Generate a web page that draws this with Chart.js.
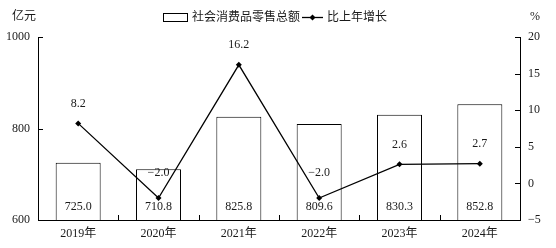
<!DOCTYPE html>
<html>
<head>
<meta charset="utf-8">
<script src="https://cdn.jsdelivr.net/npm/chart.js@4/dist/chart.umd.min.js"></script>
<style>
  html, body { margin: 0; padding: 0; background: #fff; }
  #wrap { width: 556px; height: 248px; }
</style>
</head>
<body>
<div id="wrap"><canvas id="c" width="556" height="248"></canvas></div>
<script>
var years = ["2019年", "2020年", "2021年", "2022年", "2023年", "2024年"];
var salesTotal = [725.0, 710.8, 825.8, 809.6, 830.3, 852.8];
var growthRate = [8.2, -2.0, 16.2, -2.0, 2.6, 2.7];
var leftTicks = [600, 800, 1000];
var rightTicks = [-5, 0, 5, 10, 15, 20];
var barName = "社会消费品零售总额";
var lineName = "比上年增长";
var leftUnit = "亿元";
var rightUnit = "%";

var FONT = "'Liberation Serif', 'Noto Sans CJK SC', serif";
var INK = "#1a1a1a";

function fmt(v) {
    var s = Math.abs(v).toFixed(1);
    return v < 0 ? "\u2212" + s : s;
}

function fmtTick(v) {
    return v < 0 ? "\u2212" + Math.abs(v) : String(v);
}

var decor = {
    id: "decor",
    afterDraw: function (chart) {
        var ctx = chart.ctx;
        var a = chart.chartArea;
        var xs = chart.scales.x, ys = chart.scales.y, ys1 = chart.scales.y1;
        ctx.save();
        ctx.strokeStyle = "#000";
        ctx.lineWidth = 1;
        ctx.beginPath();
        // inward tick marks
        ys.ticks.forEach(function (t, i) {
            var p = Math.round(ys.getPixelForTick(i)) + 0.5;
            ctx.moveTo(a.left, p); ctx.lineTo(a.left + 5, p);
        });
        ys1.ticks.forEach(function (t, i) {
            var p = Math.round(ys1.getPixelForTick(i)) + 0.5;
            ctx.moveTo(a.right, p); ctx.lineTo(a.right - 5, p);
        });
        for (var i = 1; i < years.length; i++) {
            var px = Math.round((xs.getPixelForValue(i - 1) + xs.getPixelForValue(i)) / 2) + 0.5;
            ctx.moveTo(px, a.bottom); ctx.lineTo(px, a.bottom - 5);
        }
        ctx.stroke();

        // value labels
        ctx.fillStyle = INK;
        ctx.font = "12px " + FONT;
        ctx.textAlign = "center";
        ctx.textBaseline = "middle";
        var barMeta = chart.getDatasetMeta(0);
        barMeta.data.forEach(function (el, i) {
            ctx.fillText(fmt(salesTotal[i]), el.x, a.bottom - 13);
        });
        var lineMeta = chart.getDatasetMeta(1);
        lineMeta.data.forEach(function (el, i) {
            var off = growthRate[i] < 0 ? 25 : 20;
            ctx.fillText(fmt(growthRate[i]), el.x, el.y - off);
        });

        // units
        ctx.textAlign = "left";
        ctx.fillText(leftUnit, 12, 17);
        ctx.fillText(rightUnit, 530, 17);

        // legend
        ctx.strokeRect(163.5, 13.5, 24, 8);
        ctx.fillText(barName, 192, 18);
        ctx.beginPath();
        ctx.lineWidth = 1.3;
        ctx.moveTo(302, 17.5); ctx.lineTo(323, 17.5);
        ctx.stroke();
        ctx.beginPath();
        ctx.moveTo(312.5, 14.5); ctx.lineTo(315.5, 17.5); ctx.lineTo(312.5, 20.5); ctx.lineTo(309.5, 17.5);
        ctx.closePath();
        ctx.fillStyle = "#000";
        ctx.fill();
        ctx.fillStyle = INK;
        ctx.fillText(lineName, 327, 18);
        ctx.restore();
    }
};

new Chart(document.getElementById("c"), {
    data: {
        labels: years,
        datasets: [
            {
                type: "bar",
                label: barName,
                data: salesTotal,
                yAxisID: "y",
                backgroundColor: "#fff",
                borderColor: "#000",
                borderWidth: 1,
                barPercentage: 0.56,
                categoryPercentage: 1,
                order: 2
            },
            {
                type: "line",
                label: lineName,
                data: growthRate,
                yAxisID: "y1",
                borderColor: "#000",
                borderWidth: 1.3,
                tension: 0,
                pointStyle: "rectRot",
                pointRadius: 3,
                pointBackgroundColor: "#000",
                pointBorderColor: "#000",
                pointBorderWidth: 0,
                order: 1
            }
        ]
    },
    options: {
        responsive: false,
        animation: false,
        layout: { padding: { top: 37, left: 0, right: 0, bottom: 0 } },
        plugins: { legend: { display: false }, tooltip: { enabled: false } },
        scales: {
            x: {
                grid: { display: false, drawTicks: false },
                border: { display: true, color: "#000", width: 1 },
                ticks: { color: INK, font: { size: 12, family: FONT }, padding: 7, maxRotation: 0 },
                afterFit: function (s) { s.height = 28; }
            },
            y: {
                position: "left",
                min: 600, max: 1000,
                afterBuildTicks: function (s) { s.ticks = leftTicks.map(function (v) { return { value: v }; }); },
                grid: { display: false, drawTicks: false },
                border: { display: true, color: "#000", width: 1 },
                ticks: { color: INK, font: { size: 12, family: FONT }, padding: 8, callback: fmtTick },
                afterFit: function (s) { s.width = 38; }
            },
            y1: {
                position: "right",
                min: -5, max: 20,
                afterBuildTicks: function (s) { s.ticks = rightTicks.map(function (v) { return { value: v }; }); },
                grid: { display: false, drawTicks: false },
                border: { display: true, color: "#000", width: 1 },
                ticks: { color: INK, font: { size: 12, family: FONT }, padding: 8, callback: fmtTick },
                afterFit: function (s) { s.width = 36; }
            }
        }
    },
    plugins: [decor]
});
</script>
</body>
</html>
